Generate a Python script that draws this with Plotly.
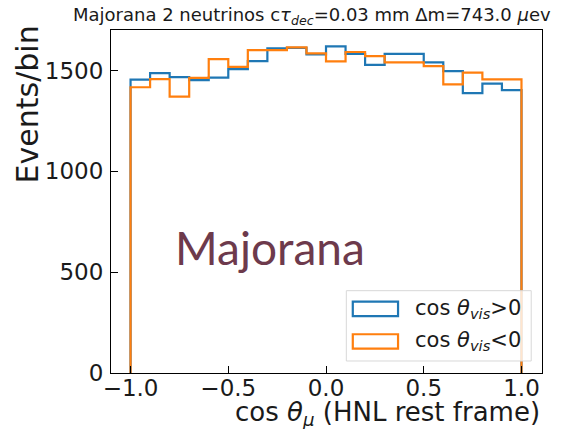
import numpy as np
import plotly.graph_objects as go

# ---- data ----
bin_edges = np.linspace(-1.0, 1.0, 21)
counts_vis_pos = [1455, 1487, 1467, 1452, 1465, 1507, 1547, 1610, 1612, 1580,
                  1620, 1582, 1528, 1583, 1583, 1540, 1497, 1388, 1435, 1403]
counts_vis_neg = [1417, 1457, 1371, 1464, 1557, 1518, 1601, 1601, 1615, 1585,
                  1545, 1592, 1571, 1540, 1540, 1522, 1431, 1490, 1456, 1456]
x_ticks = [-1.0, -0.5, 0.0, 0.5, 1.0]
x_tick_labels = ["\u22121.0", "\u22120.5", "0.0", "0.5", "1.0"]
y_ticks = [0, 500, 1000, 1500]
y_tick_labels = ["0", "500", "1000", "1500"]

BLUE = "#1f77b4"
ORANGE = "#ff7f0e"
FONT = "DejaVu Sans"


def step_xy(edges, counts):
    xs = [edges[0]]
    ys = [0]
    for i, c in enumerate(counts):
        xs += [edges[i], edges[i + 1]]
        ys += [c, c]
    xs.append(edges[-1])
    ys.append(0)
    return xs, ys


fig = go.Figure()
for counts, color, name in [(counts_vis_pos, BLUE, "cos θ<sub>vis</sub>>0"),
                            (counts_vis_neg, ORANGE, "cos θ<sub>vis</sub><0")]:
    xs, ys = step_xy(bin_edges, counts)
    fig.add_trace(go.Scatter(x=xs, y=ys, mode="lines", name=name,
                             line=dict(color=color, width=2.2),
                             showlegend=False, hoverinfo="skip"))

axis_common = dict(showline=True, linecolor="black", linewidth=1.2, mirror=True,
                   ticks="inside", ticklen=7, tickwidth=1.2, tickcolor="black",
                   showgrid=False, zeroline=False,
                   tickfont=dict(family=FONT, size=23, color="#1a1a1a"))

fig.update_xaxes(range=[-1.1, 1.105], tickvals=x_ticks, ticktext=x_tick_labels,
                 ticklabelstandoff=-6, **axis_common)
fig.update_yaxes(range=[0, 1701], tickvals=y_ticks, ticktext=y_tick_labels,
                 ticklabelstandoff=2, **axis_common)

annotations = [
    dict(text="Majorana 2 neutrinos c<i>τ</i><sub><i>dec</i></sub>=0.03 mm Δm=743.0 <i>μ</i>ev",
         x=0.467, y=1.0, xref="paper", yref="paper", xanchor="center", yanchor="bottom",
         yshift=0, showarrow=False, font=dict(family=FONT, size=18, color="#1a1a1a")),
    dict(text="Events/bin", x=0, y=0.7817, xref="paper", yref="paper",
         xanchor="right", yanchor="middle", xshift=-64, textangle=-90,
         showarrow=False, font=dict(family=FONT, size=30, color="#1a1a1a")),
    dict(text="cos <i>θ</i><sub><i>μ</i></sub> (HNL rest frame)", x=1, y=0,
         xref="paper", yref="paper", xanchor="right", yanchor="top", yshift=-22,
         showarrow=False, font=dict(family=FONT, size=26, color="#1a1a1a")),
    dict(text="Majorana", x=-0.286, y=621, xref="x", yref="y", xanchor="center",
         yanchor="middle", showarrow=False,
         font=dict(family="Lato", size=46, color="#6d3a4c")),
]

# legend drawn by hand (outlined patches like matplotlib step hist)
shapes = [
    dict(type="rect", xref="paper", yref="paper", x0=0.546, x1=0.975, y0=0.035, y1=0.24,
         line=dict(color="#d8d8d8", width=1), fillcolor="rgba(255,255,255,0.8)", layer="above"),
]
leg_items = [(BLUE, "cos <i>θ</i><sub><i>vis</i></sub>>0", 0.187),
             (ORANGE, "cos <i>θ</i><sub><i>vis</i></sub><0", 0.092)]
for color, label, yc in leg_items:
    shapes.append(dict(type="rect", xref="paper", yref="paper", x0=0.561, x1=0.666,
                       y0=yc - 0.021, y1=yc + 0.021, line=dict(color=color, width=2.2),
                       fillcolor="rgba(0,0,0,0)", layer="above"))
    annotations.append(dict(text=label, x=0.701, y=yc, xref="paper", yref="paper",
                            xanchor="left", yanchor="middle", showarrow=False,
                            font=dict(family=FONT, size=21, color="#1a1a1a")))

fig.update_layout(width=577, height=429, margin=dict(l=111, r=35, t=30, b=56),
                  paper_bgcolor="white", plot_bgcolor="white",
                  annotations=annotations, shapes=shapes, showlegend=False)

fig.write_html("out.html")
